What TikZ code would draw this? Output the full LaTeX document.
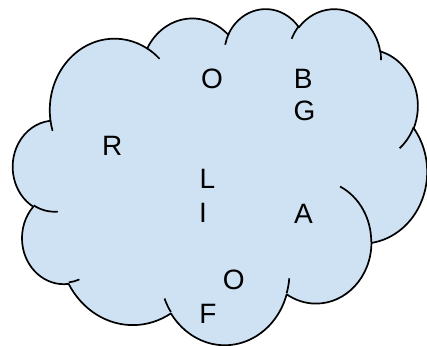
\documentclass[tikz,border=0pt]{standalone}
\usepackage{fontspec}
\setmainfont{Liberation Sans}
\definecolor{cloudblue}{HTML}{CFE2F3}
% #1 id, #2 wR, #3 hR (path units/100), #4 start angle, #5 sweep (visual, y down)
\newcommand\cldcalc[5]{%
  \pgfmathsetmacro\cldT{atan2((#2)*sin(#4),(#3)*cos(#4))}%
  \pgfmathsetmacro\cldU{atan2((#2)*sin((#4)+(#5)),(#3)*cos((#4)+(#5)))}%
  \pgfmathsetmacro\cldD{(#5)>0 ? mod(\cldU-\cldT+720,360) : 0-mod(\cldT-\cldU+720,360)}%
  \pgfmathsetmacro\cldT{0-(\cldT)}%
  \pgfmathsetmacro\cldD{0-(\cldD)}%
  \pgfmathsetmacro\cldX{(#2)*0.958333}%
  \pgfmathsetmacro\cldY{(#3)*0.777778}%
  \expandafter\xdef\csname cldS#1\endcsname{\cldT}%
  \expandafter\xdef\csname cldD#1\endcsname{\cldD}%
  \expandafter\xdef\csname cldX#1\endcsname{\cldX}%
  \expandafter\xdef\csname cldY#1\endcsname{\cldY}%
}
\newcommand\carc[1]{arc[start angle=\csname cldS#1\endcsname,delta angle=\csname cldD#1\endcsname,x radius=\csname cldX#1\endcsname pt,y radius=\csname cldY#1\endcsname pt]}
\cldcalc{aa}{67.53}{91.90}{-190.4875}{123.7805}
\cldcalc{ab}{53.33}{72.67}{-144.1024}{89.9452}
\cldcalc{ac}{43.65}{59.45}{-145.8079}{99.7230}
\cldcalc{ad}{48.57}{65.95}{-130.9861}{117.2417}
\cldcalc{ae}{53.33}{72.73}{-78.7089}{109.0269}
\cldcalc{af}{67.75}{92.20}{-46.2673}{130.2690}
\cldcalc{ag}{57.85}{78.67}{0.6250}{114.0333}
\cldcalc{ah}{67.52}{92.15}{22.4516}{115.1726}
\cldcalc{ai}{77.20}{105.43}{66.2426}{75.7110}
\cldcalc{aj}{43.60}{59.18}{-274.9421}{146.7356}
\cldcalc{ak}{43.45}{59.45}{-246.8285}{152.5189}
\cldcalc{ba}{43.45}{59.45}{86.742}{26.4295}
\cldcalc{bb}{43.60}{59.18}{73.6105}{11.4475}
\cldcalc{bc}{67.52}{92.15}{137.6242}{14.0811}
\cldcalc{bd}{67.52}{92.15}{6.4533}{15.9984}
\cldcalc{be}{57.85}{78.67}{-70.2924}{70.9174}
\cldcalc{bf}{53.33}{72.73}{30.3180}{27.7515}
\cldcalc{bg}{48.57}{65.95}{-13.7443}{14.8589}
\cldcalc{bh}{48.57}{65.95}{-149.1815}{18.1954}
\cldcalc{bi}{43.65}{59.45}{-163.4943}{17.6864}
\cldcalc{bj}{67.53}{91.90}{-66.7070}{12.3194}
\cldcalc{bk}{67.53}{91.90}{157.6544}{11.8582}
\begin{document}
\begin{tikzpicture}[
  cloudfill/.style={draw=black,fill=cloudblue,line width=1.7pt,line join=round},
  cloudline/.style={draw=black,line width=1.7pt,line cap=butt},
  letter/.style={anchor=base west,inner sep=0pt,outer sep=0pt,font=\fontsize{28}{32}\selectfont}
]
\useasboundingbox (0,0) rectangle (427pt,-345pt);
\begin{scope}[shift={(13pt,-8pt)},x=0.958333pt,y=-0.777778pt]
\path[cloudfill] (39.00,143.70) \carc{aa} \carc{ab} \carc{ac} \carc{ad} \carc{ae} \carc{af} \carc{ag} \carc{ah} \carc{ai} \carc{aj} \carc{ak} -- cycle;
\path[cloudline] (46.93,261.77) \carc{ba}
  (69.28,348.99) \carc{bb}
  (164.78,390.90) \carc{bc}
  (288.27,347.51) \carc{bd}
  (341.29,229.54) \carc{be}
  (417.98,153.54) \carc{bf}
  (383.24,54.26) \carc{bg}
  (290.78,39.52) \carc{bh}
  (221.41,47.20) \carc{bi}
  (140.00,51.92) \carc{bj}
  (41.27,157.89) \carc{bk};
\end{scope}
\node[letter] (o1) at (201pt,-88.5pt) {O};
\node[letter] (b) at (293.8pt,-88.3pt) {B};
\node[letter] (g) at (293.6pt,-120.5pt) {G};
\node[letter] (r) at (102pt,-155pt) {R};
\node[letter] (l) at (199.6pt,-188.3pt) {L};
\node[letter] (i) at (199.1pt,-222.7pt) {I};
\node[letter] (a) at (294pt,-223.3pt) {A};
\node[letter] (o2) at (222.9pt,-289.5pt) {O};
\node[letter] (f) at (199.4pt,-323.3pt) {F};
\end{tikzpicture}
\end{document}
